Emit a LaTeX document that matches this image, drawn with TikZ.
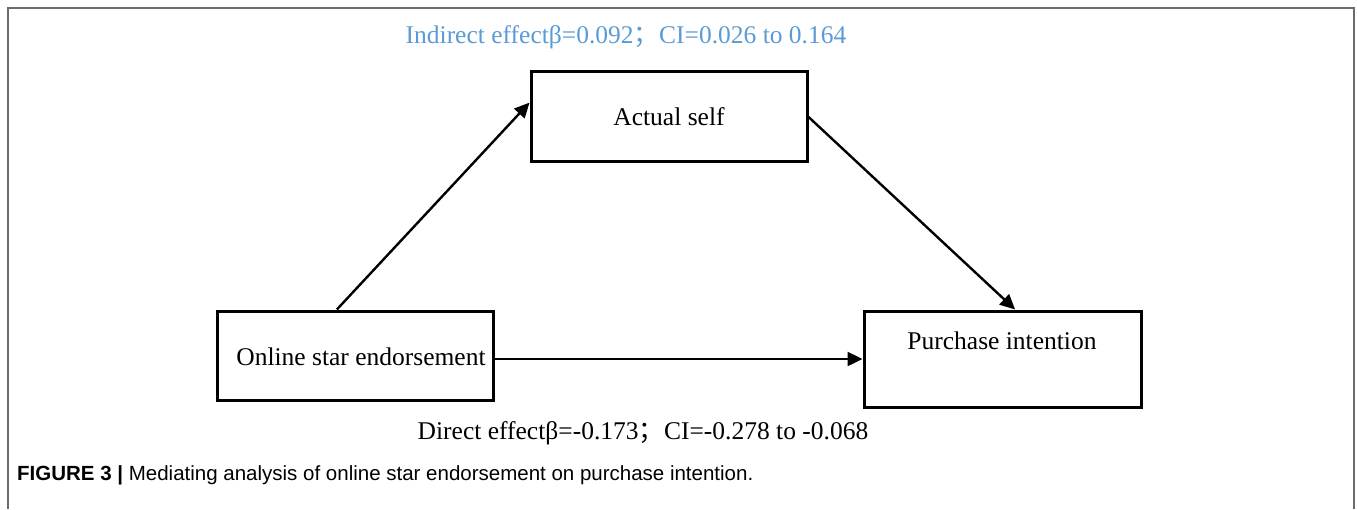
\documentclass[tikz,border=0pt]{standalone}
\usepackage{fontspec}
\setmainfont{Liberation Serif}
\newfontfamily\capfont{Liberation Sans}
\newfontfamily\cjk{Noto Sans CJK SC}
\usetikzlibrary{arrows.meta,calc}
\definecolor{effblue}{RGB}{91,155,213}
\tikzset{
  box/.style={draw=black, line width=3pt, inner sep=0pt, rectangle},
  txt/.style={font=\fontsize{25.5}{29}\selectfont, inner sep=0pt},
  conn/.style={line width=2.4pt, -{Triangle[length=15pt,width=14pt]}},
  frame/.style={draw=gray!85!black, line width=1.8pt}
}
\begin{document}
\begin{tikzpicture}[x=1pt,y=-1pt]
\useasboundingbox (0,0) rectangle (1357,509);
\draw[frame] (8,509) -- (8,8) -- (1354,8) -- (1354,509);
% boxes
\node[box, minimum width=276pt, minimum height=90pt] (as) at (669,116) {};
\node[box, minimum width=276pt, minimum height=89pt] (on) at (355,355.5) {};
\node[box, minimum width=277pt, minimum height=96pt] (pi) at (1002.5,359) {};
% box texts
\node[txt] (ast) at (669,117) {Actual self};
\node[txt] (ont) at (361,357) {Online star endorsement};
\node[txt] (pit) at (1002,341) {Purchase intention};
% connectors
\draw[conn] ($(on.north west)!0.435!(on.north east)$) -- ($(as.north west)!0.356!(as.south west)$);
\draw[conn] ($(as.north east)!0.51!(as.south east)$) -- ($(pi.north west)!0.545!(pi.north east)$);
\draw[conn] (on.east |- pi.west) -- (pi.west);
% effect labels
\node[txt, text=effblue] (ind) at (626,37) {Indirect effectβ=0.092{\cjk ；}CI=0.026 to 0.164};
\node[txt] (dir) at (643,433) {Direct effectβ=-0.173{\cjk ；}CI=-0.278 to -0.068};
% caption
\node[anchor=west, inner sep=0pt, font=\capfont\fontsize{20.5}{24}\selectfont] (cap) at (17,475) {\textbf{FIGURE 3 |} Mediating analysis of online star endorsement on purchase intention.};
\end{tikzpicture}
\end{document}
